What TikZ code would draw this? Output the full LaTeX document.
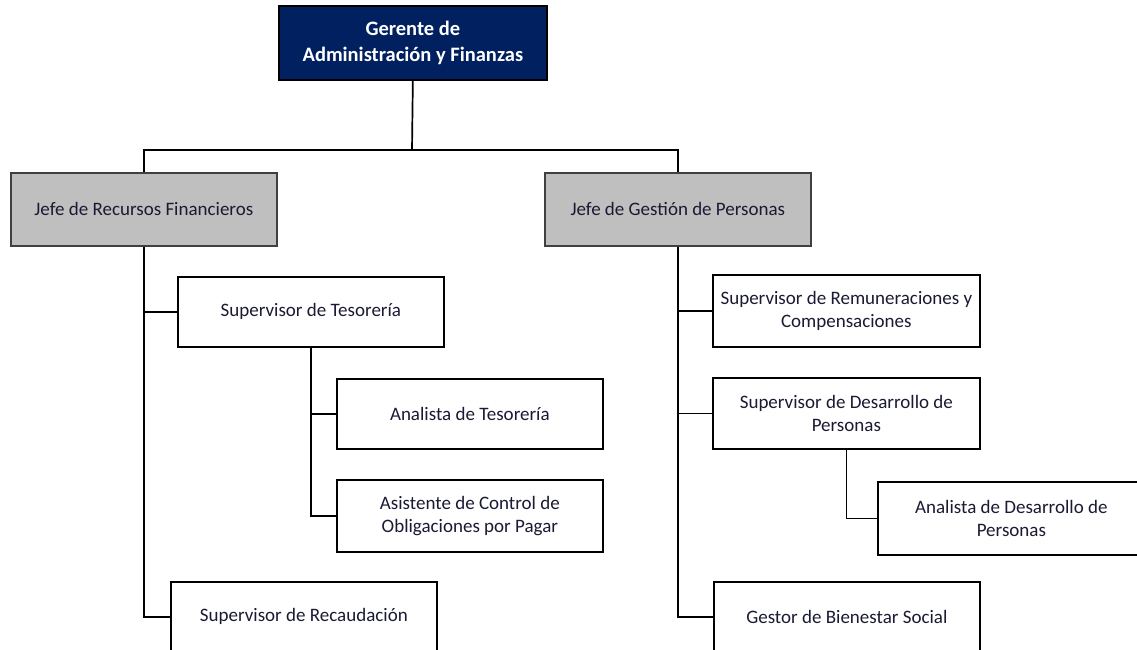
\documentclass[tikz,border=0pt]{standalone}
\usepackage{fontspec}
\setmainfont{Carlito}
\definecolor{navy}{HTML}{002060}
\definecolor{boxgray}{HTML}{BFBFBF}
\definecolor{txt}{HTML}{1A1A33}
\begin{document}
\begin{tikzpicture}[x=1pt,y=-1pt,
  orgbox/.style={draw=black,line width=1.7pt,anchor=north west,inner sep=0pt,
    align=center,text=txt,font=\fontsize{19}{22.5}\selectfont},
  topbox/.style={orgbox,fill=navy,text=white,font=\bfseries\fontsize{20.5}{26}\selectfont},
  chiefbox/.style={orgbox,fill=boxgray,draw=black!75},
  link/.style={line width=1.7pt,draw=black}]
\useasboundingbox (0,0) rectangle (1137,649);
\clip (0,0) rectangle (1137,649);
\fill[white] (0,0) rectangle (1137,649);
\node[topbox,minimum width=268pt,minimum height=74pt] (G) at (278,5) {Gerente de\\Administración y Finanzas};
\node[chiefbox,minimum width=266pt,minimum height=73pt] (J1) at (10,172) {Jefe de Recursos Financieros};
\node[chiefbox,minimum width=266pt,minimum height=73pt] (J2) at (544,172) {Jefe de Gestión de Personas};
\node[orgbox,minimum width=266pt,minimum height=70pt] (ST) at (177,276) {Supervisor de Tesorería};
\node[orgbox,minimum width=266pt,minimum height=70pt] (AT) at (336,378) {Analista de Tesorería};
\node[orgbox,minimum width=266pt,minimum height=72pt] (AC) at (336,479) {Asistente de Control de\\Obligaciones por Pagar};
\node[orgbox,minimum width=266pt,minimum height=70pt] (SR) at (170,581) {Supervisor de Recaudación};
\node[orgbox,minimum width=267pt,minimum height=72pt] (SRem) at (712,274) {Supervisor de Remuneraciones y\\Compensaciones};
\node[orgbox,minimum width=267pt,minimum height=71pt] (SD) at (712,377) {Supervisor de Desarrollo de\\Personas};
\node[orgbox,minimum width=267pt,minimum height=73pt] (AD) at (877,481) {Analista de Desarrollo de\\Personas};
\node[orgbox,minimum width=266pt,minimum height=70pt] (GB) at (713,581) {Gestor de Bienestar Social};
\coordinate (bus) at (412,150);
\draw[link] (G.south) -- (bus);
\draw[link] (J1.north) |- (bus) -| (J2.north);
\draw[link] (J1.south) |- (SR.west);
\draw[link] (J1.south |- ST.west) -- (ST.west);
\draw[link] (ST.south) |- (AC.west);
\draw[link] (ST.south |- AT.west) -- (AT.west);
\draw[link] (J2.south) |- (GB.west);
\draw[link] (J2.south |- SRem.west) -- (SRem.west);
\draw[link] (J2.south |- SD.west) -- (SD.west);
\draw[link] (SD.south) |- (AD.west);
\end{tikzpicture}
\end{document}
